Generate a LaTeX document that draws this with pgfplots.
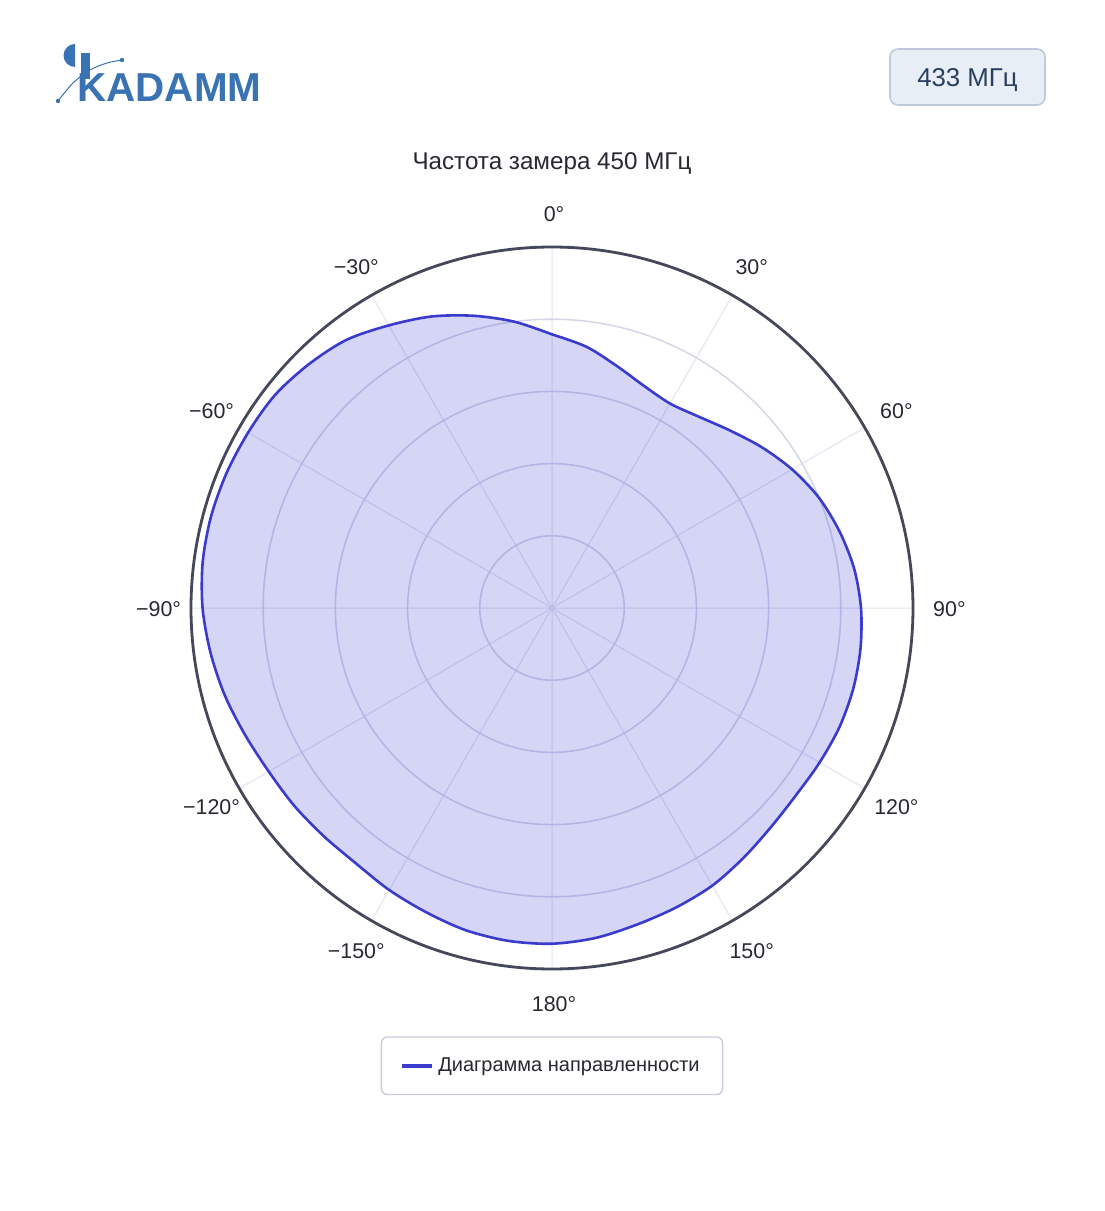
\documentclass[border=0pt]{standalone}
\usepackage{pgfplots}
\pgfplotsset{compat=1.18}
\usepgfplotslibrary{polar}
\usepackage{fontspec}
\setmainfont{Liberation Sans}
\definecolor{logoblue}{RGB}{58,115,180}
\definecolor{badgefill}{RGB}{232,238,246}
\definecolor{badgedraw}{RGB}{192,200,220}
\definecolor{navy}{RGB}{42,63,95}
\definecolor{txt}{RGB}{40,40,48}
\definecolor{rim}{RGB}{68,72,90}
\definecolor{gridc}{RGB}{214,216,232}
\definecolor{spokec}{RGB}{224,226,238}
\definecolor{curve}{RGB}{58,58,205}
\definecolor{fillc}{RGB}{45,45,210}
\definecolor{legdraw}{RGB}{200,204,222}
\begin{document}
\begin{tikzpicture}[x=1pt,y=1pt]
\useasboundingbox (0,0) rectangle (552,605.5);
% logo
\fill[logoblue] (37.5,583.5) arc (90:270:5.75) -- cycle;
\fill[logoblue] (40.6,579) rectangle (45,566);
\node[anchor=base west,inner sep=0pt,text=logoblue,font=\fontsize{20.2}{22}\selectfont\bfseries] at (38.5,554.5) {KADAMM};
\draw[logoblue,line width=0.5pt] plot[smooth] coordinates {(29,555) (36.5,564) (45,570.5) (53.5,574) (61,575.5)};
\fill[logoblue] (29,555) circle (1.1);
\fill[logoblue] (61,575.5) circle (1.1);
% badge
\draw[badgedraw,fill=badgefill,line width=0.8pt,rounded corners=4pt] (445,553) rectangle (522.5,581);
\node[anchor=base,inner sep=0pt,text=navy,font=\fontsize{12.9}{15}\selectfont] at (483.75,562) {433 МГц};
% title
\node[anchor=base,inner sep=0pt,text=txt,font=\fontsize{12.1}{14}\selectfont] at (276,520.7) {Частота замера 450 МГц};
\begin{polaraxis}[
  at={(276pt,301.5pt)}, anchor=center,
  scale only axis, width=361pt, height=361pt,
  xmin=0, xmax=360, ymin=0, ymax=5,
  xtick={0,30,...,330},
  xticklabels={90°,60°,30°,0°,−30°,−60°,−90°,−120°,−150°,180°,150°,120°},
  ytick={1,2,3,4,5}, yticklabels={},
  major tick length=0pt,
  xmajorgrids, ymajorgrids,
  x grid style={color=spokec,line width=0.5pt},
  y grid style={color=gridc,line width=0.8pt},
  axis line style={color=rim,line width=1.4pt},
  y axis line style={draw=none},
  xticklabel style={font=\fontsize{10.7}{12}\selectfont,text=txt,inner sep=0pt,anchor=center,shift={({\tick}:17.2pt)},xshift=1pt,yshift=-0.6pt},
  legend style={at={(0.5,-0.134)},anchor=center,draw=legdraw,line width=0.7pt,rounded corners=3pt,
    font=\fontsize{10}{12}\selectfont,text=txt,inner xsep=9.5pt,inner ysep=8.2pt},
  legend cell align=left,
]
\addplot[draw=curve,line width=1.3pt,fill=fillc,fill opacity=0.2,smooth,
  legend image code/.code={\draw[curve,line width=2pt](0pt,0pt)--(15pt,0pt);}]
coordinates {(90,3.79) (82.5,3.65) (75,3.47) (67.5,3.33) (60,3.27) (52.5,3.34) (45,3.48) (37.5,3.66) (30,3.84) (22.5,4.00) (15,4.12) (7.5,4.22) (0,4.28) (352.5,4.31) (345,4.32) (337.5,4.31) (330,4.28) (322.5,4.26) (315,4.29) (307.5,4.36) (300,4.44) (292.5,4.49) (285,4.54) (277.5,4.61) (270,4.65) (262.5,4.65) (255,4.62) (247.5,4.56) (240,4.51) (232.5,4.46) (225,4.47) (217.5,4.50) (210,4.53) (202.5,4.60) (195,4.69) (187.5,4.77) (180,4.84) (172.5,4.88) (165,4.89) (157.5,4.88) (150,4.86) (142.5,4.84) (135,4.77) (127.5,4.68) (120,4.52) (112.5,4.37) (105,4.19) (97.5,4.00) (90,3.79)};
\addlegendentry{Диаграмма направленности}
\end{polaraxis}
\end{tikzpicture}
\end{document}
